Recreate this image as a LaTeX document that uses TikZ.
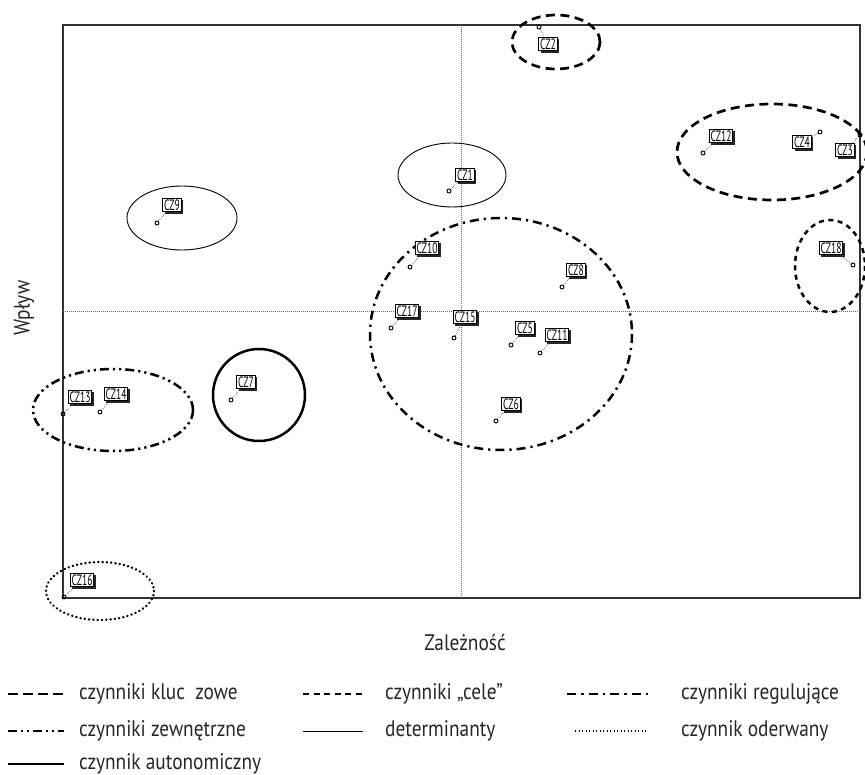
\documentclass[tikz,border=0pt]{standalone}
\usepackage{fontspec}
\setmainfont{PT Sans}[FakeStretch=0.86]
\newfontfamily\labfont{PT Sans}[FakeStretch=0.64]
\usetikzlibrary{shadows}
\tikzset{
  frameline/.style={line width=1.1pt, draw=black!80},
  midline/.style={line width=0.5pt, draw=black!60, dash pattern=on 0.8pt off 1.2pt},
  kluc/.style={line width=2.7pt, dash pattern=on 9pt off 5.5pt},
  cele/.style={line width=2.5pt, dash pattern=on 5pt off 4.5pt},
  regul/.style={line width=2.5pt, dash pattern=on 9pt off 5pt on 2.2pt off 5pt},
  zewn/.style={line width=2.5pt, dash pattern=on 9pt off 4pt on 2.2pt off 4pt on 2.2pt off 4pt},
  determ/.style={line width=0.9pt},
  oderw/.style={line width=2.7pt, line cap=round, dash pattern=on 0.01pt off 4.3pt},
  auton/.style={line width=2.5pt},
  mk/.style={circle, draw=black, line width=0.9pt, minimum size=4pt, inner sep=0pt},
  lab/.style={draw=black, fill=white, line width=0.9pt, inner xsep=1.3pt, inner ysep=1.2pt,
    font=\labfont\fontsize{15}{15}\selectfont,
    drop shadow={shadow xshift=2pt, shadow yshift=-2pt, fill=black!85, opacity=1}},
  leader/.style={line width=0.6pt, draw=black!70, dash pattern=on 0.8pt off 1pt},
  legtext/.style={anchor=west, inner sep=0pt, font=\fontsize{22.5}{24}\selectfont, text=black!85},
  axtext/.style={inner sep=0pt, font=\fontsize{22.5}{24}\selectfont, text=black!85}
}
\begin{document}
\begin{tikzpicture}[x=1pt, y=-1pt]
\useasboundingbox (0,0) rectangle (865,775);
% frame and mid lines
\draw[frameline] (63,25) rectangle (860,598);
\draw[midline] (461.5,25) -- (461.5,598);
\draw[midline] (63,311.5) -- (860,311.5);
% ellipses
\draw[kluc] (556,42) ellipse (44 and 27);
\draw[kluc] (772,152) ellipse (95 and 48);
\draw[cele] (830,266) ellipse (35 and 46);
\draw[determ] (452,175) ellipse (54 and 32);
\draw[determ] (182,218) ellipse (55 and 32);
\draw[regul] (501,334) ellipse (131 and 116);
\draw[zewn] (113,410) ellipse (80 and 41);
\draw[auton] (259,395) circle (46);
\draw[oderw] (100,591) ellipse (54 and 29);
% points
\foreach \n/\px/\py/\lx/\ly in {1/449/191/465/175, 2/539/27/548/44, 3/860/135/845/150,
  4/820/132/802/142, 5/511/345/525/328, 6/496/421/511/404, 7/231/400/246/382,
  8/562/287/576/270, 9/157/223/172/205, 10/410/267/427/248, 11/540/353/557/335,
  12/703/153/721/136, 13/63/414/80/397, 14/100/412/116/394, 15/454/338/465/317,
  16/64/597/82/580, 17/391/328/407/311, 18/853/265/831/248}{
  \node[mk] (m\n) at (\px,\py) {};
  \node[lab] (l\n) at (\lx,\ly) {CZ\n};
  \draw[leader] (m\n) -- (l\n);
}
% axis labels
\node[axtext] (xlab) at (465,643) {Zależność};
\node[axtext, rotate=90] (ylab) at (24,308) {Wpływ};
% legend
\draw[kluc, line width=2.8pt, dash pattern=on 10pt off 5pt] (8,694) -- (63,694);
\node[legtext] (t1) at (79,694) {czynniki kluc\hspace{0.45em}zowe};
\draw[cele, line width=2.6pt, dash pattern=on 6pt off 4.5pt] (303,694) -- (363,694);
\node[legtext] (t2) at (385,694) {czynniki „cele”};
\draw[regul, line width=2.6pt, dash pattern=on 9pt off 5pt on 2.5pt off 5pt] (567,694) -- (648,694);
\node[legtext] (t3) at (681,694) {czynniki regulujące};
\draw[zewn, line width=2.6pt, dash pattern=on 9pt off 4pt on 2.2pt off 3.5pt on 2.2pt off 4pt] (8,731) -- (64,731);
\node[legtext] (t4) at (79,731) {czynniki zewnętrzne};
\draw[determ, line width=1pt] (303,731) -- (363,731);
\node[legtext] (t5) at (385,731) {determinanty};
\draw[line width=1.6pt, line cap=butt, dash pattern=on 1.4pt off 2.1pt] (575,731) -- (648,731);
\node[legtext] (t6) at (681,731) {czynnik oderwany};
\draw[auton, line width=2.6pt] (8,764) -- (64,764);
\node[legtext] (t7) at (79,764) {czynnik autonomiczny};
\end{tikzpicture}
\end{document}
